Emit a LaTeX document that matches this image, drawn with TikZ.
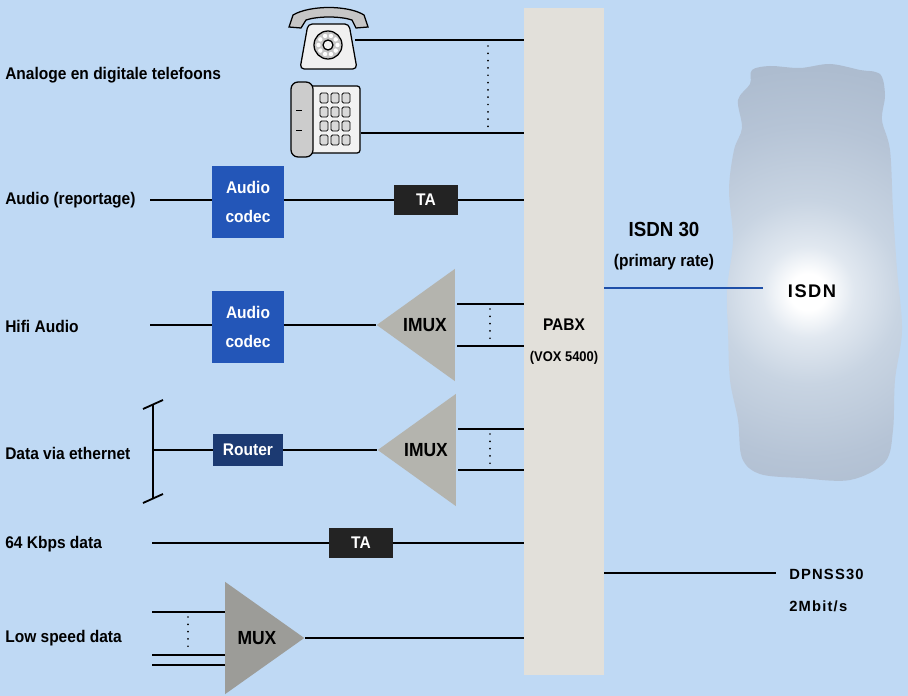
\documentclass[tikz,border=0pt]{standalone}
\usepackage{fontspec}
\setmainfont[FakeStretch=0.92]{Liberation Sans}
\newfontfamily\widefont[LetterSpace=8]{Liberation Sans}
\usetikzlibrary{positioning,shapes.geometric,calc}
\definecolor{pbxSky}{HTML}{BFD9F4}
\definecolor{pbxBar}{HTML}{E2E0DA}
\definecolor{pbxCodec}{HTML}{2356B8}
\definecolor{pbxNavy}{HTML}{1C3A72}
\definecolor{pbxBlack}{HTML}{232323}
\definecolor{pbxImux}{HTML}{B4B4AE}
\definecolor{pbxMux}{HTML}{9C9C98}
\definecolor{pbxLine}{HTML}{1E4FA8}
\definecolor{cloudA}{HTML}{E1E8F0}
\definecolor{cloudB}{HTML}{C8D4E2}
\definecolor{cloudC}{HTML}{B6C4D6}
\definecolor{cloudD}{HTML}{A5B5C9}
\definecolor{cloudE}{HTML}{91A3BA}
\pgfdeclareradialshading{cloudglow}{\pgfpoint{0bp}{0bp}}{%
  color(0bp)=(white); color(2bp)=(white); color(5bp)=(cloudA); color(10bp)=(cloudB);
  color(18bp)=(cloudC); color(30bp)=(cloudD); color(50bp)=(cloudE)}
\tikzset{
  wire/.style={draw=black, line width=1.3pt},
  isdnwire/.style={draw=pbxLine, line width=1.6pt},
  dots/.style={draw=black, line width=1.4pt, dash pattern=on 0pt off 5.2pt, line cap=round},
  unit/.style={rectangle, inner sep=0pt, text=white, align=center,
              font=\bfseries\fontsize{12}{14}\selectfont},
  codec/.style={unit, fill=pbxCodec, minimum width=1.775cm, minimum height=1.775cm},
  ta/.style={unit, fill=pbxBlack, minimum width=1.575cm, minimum height=0.75cm},
  router/.style={unit, fill=pbxNavy, minimum width=1.75cm, minimum height=0.775cm},
  imux/.style={isosceles triangle, isosceles triangle stretches, shape border rotate=180,
              fill=pbxImux, minimum height=1.95cm, minimum width=2.8cm, inner sep=0pt},
  mux/.style={isosceles triangle, isosceles triangle stretches,
              fill=pbxMux, minimum height=1.975cm, minimum width=2.8cm, inner sep=0pt},
  trilbl/.style={inner sep=0pt, font=\bfseries\fontsize{13.5}{16}\selectfont},
  pabx/.style={rectangle, fill=pbxBar, minimum width=2cm, minimum height=16.675cm,
              align=center, font=\bfseries},
  lbl/.style={anchor=west, inner sep=0pt, font=\bfseries\fontsize{12}{14}\selectfont},
  rlbl/.style={anchor=west, inner sep=0pt, font=\widefont\bfseries\fontsize{10.5}{13}\selectfont},
  phone/.style={draw=black, line width=0.9pt},
}

\begin{document}
\begin{tikzpicture}[x=0.025cm, y=-0.025cm]
  \useasboundingbox (0,0) rectangle (908,696);
  \fill[pbxSky] (0,0) rectangle (908,696);

  % ISDN cloud
  \begin{scope}
    \clip plot[smooth cycle, tension=0.55] coordinates {(750,84) (752,70) (770,66) (800,68) (830,64)
      (860,70) (880,74) (885,95) (882,120) (890,150) (893,210) (897,270) (902,330) (895,380)
      (893,430) (885,462) (850,480) (800,478) (760,474) (742,458) (738,420) (730,380) (728,330)
      (727,290) (733,240) (729,190) (734,150) (742,128) (738,100)};
    \shade[shading=cloudglow] (808,292) circle (230);
  \end{scope}

  % PABX bar
  \node[pabx] (pabx) at (564,341.5)
       {\fontsize{12}{14}\selectfont PABX\\[10pt]\fontsize{10}{12}\selectfont (VOX 5400)};

  % telephones
  \draw[phone, fill=gray!12, rounded corners=3pt] (308,24) -- (349,24) -- (357,69) -- (300,69) -- cycle;
  \draw[phone, fill=gray!45] (289,27) -- (293,15) .. controls (310,5) and (348,5) .. (364,15)
       -- (368,27) -- (356,28) -- (352,20) .. controls (340,16) and (318,16) .. (306,20) -- (301,28) -- cycle;
  \draw[phone, fill=gray!45] (328,45) circle (14);
  \foreach \a in {0,36,...,324}
    \fill[white] ($(328,45)+(\a:9.5)$) circle (2.2);
  \draw[phone, fill=gray!12] (328,45) circle (5);
  \draw[phone, fill=gray!10, rounded corners=2pt] (298,86) rectangle (360,153);
  \draw[phone, fill=gray!40, rounded corners=5pt] (291,82) rectangle (313,157);
  \draw[line width=0.6pt] (296,110) -- (302,110) (296,130) -- (302,130);
  \foreach \r in {0,...,3}
    \foreach \c in {0,1,2}
      \draw[line width=0.6pt, fill=gray!30, rounded corners=1pt]
           (320+\c*11,93+\r*14) rectangle +(8,10);
  \coordinate (telA) at (355,40);
  \coordinate (telB) at (361,133);
  \draw[wire] (telA) -- (telA -| pabx.west);
  \draw[wire] (telB) -- (telB -| pabx.west);
  \draw[dots] (488,46) -- (488,127);
  \node[lbl] (lTel) at (5,75) {Analoge en digitale telefoons};

  % audio reportage
  \node[lbl] (lRep) at (5,200) {Audio (reportage)};
  \coordinate (inRep) at (150,200);
  \node[codec] (codecA) at (248,202) {Audio\\[7pt]codec};
  \node[ta] (taA) at (426,200) {TA};
  \draw[wire] (inRep) -- (inRep -| codecA.west);
  \draw[wire] (inRep -| codecA.east) -- (taA);
  \draw[wire] (taA) -- (taA -| pabx.west);

  % hifi audio
  \node[lbl] (lHifi) at (5,326) {Hifi Audio};
  \coordinate (inHifi) at (150,325);
  \node[codec] (codecB) at (248,327) {Audio\\[7pt]codec};
  \node[imux, anchor=apex] (imuxA) at (376,325) {};
  \node[trilbl] (imuxAt) at ($(imuxA.apex)!0.62!(imuxA.east)$) {IMUX};
  \draw[wire] (inHifi) -- (inHifi -| codecB.west);
  \draw[wire] (inHifi -| codecB.east) -- (imuxA.apex);
  \draw[wire] (imuxA.east) ++(2,-21) coordinate (imuxA1) -- (imuxA1 -| pabx.west);
  \draw[wire] (imuxA.east) ++(2,21) coordinate (imuxA2) -- (imuxA2 -| pabx.west);
  \draw[dots] (490,309) -- (490,340);

  % ethernet
  \node[lbl] (lEth) at (5,453) {Data via ethernet};
  \coordinate (ethTop) at (153,404);
  \coordinate (ethBot) at (153,498);
  \draw[wire] (ethTop) -- (ethBot);
  \draw[wire] (ethTop) ++(-10,5) -- ++(20,-9);
  \draw[wire] (ethBot) ++(-10,5) -- ++(20,-9);
  \node[router] (router) at (248,450) {Router};
  \node[imux, anchor=apex] (imuxB) at (377,450) {};
  \node[trilbl] (imuxBt) at ($(imuxB.apex)!0.62!(imuxB.east)$) {IMUX};
  \draw[wire] (ethTop |- router) -- (router);
  \draw[wire] (router) -- (imuxB.apex);
  \draw[wire] (imuxB.east) ++(2,-21) coordinate (imuxB1) -- (imuxB1 -| pabx.west);
  \draw[wire] (imuxB.east) ++(2,20) coordinate (imuxB2) -- (imuxB2 -| pabx.west);
  \draw[dots] (490,434) -- (490,465);

  % 64 kbps
  \node[lbl] (lKbps) at (5,544) {64 Kbps data};
  \coordinate (inKbps) at (152,543);
  \node[ta] (taB) at (361,543) {TA};
  \draw[wire] (inKbps) -- (taB);
  \draw[wire] (taB) -- (taB -| pabx.west);

  % low speed
  \node[lbl] (lLow) at (5,638) {Low speed data};
  \node[mux, anchor=apex] (muxA) at (305,638) {};
  \node[trilbl] (muxAt) at ($(muxA.apex)!0.6!(muxA.west)$) {MUX};
  \foreach \n/\y in {1/612,2/655,3/665}{
    \coordinate (inLow\n) at (152,\y);
    \draw[wire] (inLow\n) -- (inLow\n -| muxA.west);
  }
  \draw[dots] (188,617) -- (188,650);
  \draw[wire] (muxA.apex) -- (muxA.apex -| pabx.west);

  % trunks
  \coordinate (isdnEnd) at (763,288);
  \draw[isdnwire] (pabx.east |- isdnEnd) -- (isdnEnd);
  \node[font=\bfseries\fontsize{14.5}{17}\selectfont] (isdn30) at (664,229) {ISDN 30};
  \node[font=\bfseries\fontsize{12}{14}\selectfont] (primary) at (664,262) {(primary rate)};
  \node[font=\widefont\bfseries\fontsize{13}{15}\selectfont] (isdn) at (812,291) {ISDN};
  \coordinate (dpEnd) at (776,573);
  \draw[wire] (pabx.east |- dpEnd) -- (dpEnd);
  \node[rlbl] (dpnss) at (789,574) {DPNSS30};
  \node[rlbl] (rate) at (789,606) {2Mbit/s};
\end{tikzpicture}
\end{document}
